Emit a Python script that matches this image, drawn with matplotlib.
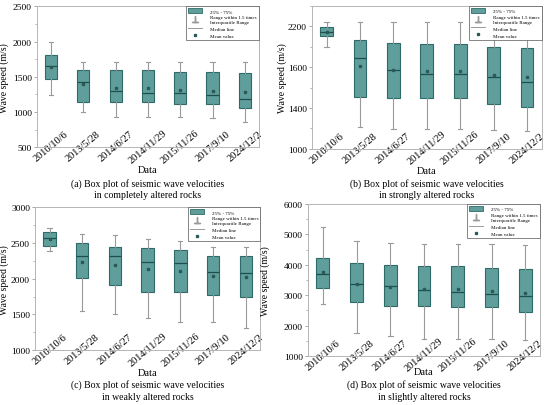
import matplotlib
matplotlib.use("Agg")
import matplotlib.pyplot as plt
import numpy as np
from matplotlib.lines import Line2D
from matplotlib.patches import Patch
from matplotlib.ticker import AutoMinorLocator

plt.rcParams["font.family"] = ["Liberation Serif", "DejaVu Serif"]

DATES = ["2010/10/6", "2013/5/28", "2014/6/27", "2014/11/29",
         "2015/11/26", "2017/9/10", "2024/12/2"]

# per panel: whisker low, q1, median, q3, whisker high, mean
A_LOW = [1247, 997, 926, 926, 926, 911, 855]
A_Q1 = [1469, 1138, 1138, 1138, 1119, 1119, 1063]
A_MED = [1649, 1431, 1294, 1266, 1271, 1247, 1190]
A_Q3 = [1810, 1597, 1592, 1592, 1573, 1573, 1550]
A_HIGH = [1989, 1715, 1706, 1706, 1706, 1706, 1706]
A_MEAN = [1645, 1394, 1342, 1337, 1318, 1304, 1280]

B_LOW = [1994, 1218, 1196, 1196, 1196, 1186, 1173]
B_Q1 = [2102, 1505, 1495, 1495, 1495, 1440, 1414]
B_MED = [2141, 1887, 1773, 1730, 1730, 1701, 1659]
B_Q3 = [2190, 2069, 2040, 2030, 2024, 1994, 1988]
B_HIGH = [2245, 2239, 2239, 2239, 2239, 2239, 2239]
B_MEAN = [2141, 1812, 1776, 1763, 1760, 1724, 1701]

C_LOW = [2384, 1544, 1501, 1453, 1401, 1392, 1306]
C_Q1 = [2465, 2012, 1907, 1821, 1811, 1773, 1749]
C_MED = [2570, 2322, 2322, 2241, 2227, 2093, 2084]
C_Q3 = [2656, 2499, 2451, 2427, 2408, 2322, 2322]
C_HIGH = [2704, 2632, 2618, 2551, 2523, 2451, 2442]
C_MEAN = [2561, 2236, 2189, 2141, 2107, 2045, 2022]

D_LOW = [2708, 1737, 1670, 1558, 1558, 1558, 1536]
D_Q1 = [3232, 2764, 2652, 2630, 2618, 2596, 2451]
D_MED = [3690, 3355, 3299, 3176, 3098, 3031, 2964]
D_Q3 = [4237, 4047, 3991, 3958, 3958, 3880, 3846]
D_HIGH = [5241, 4772, 4705, 4683, 4683, 4683, 4661]
D_MEAN = [3768, 3355, 3266, 3210, 3188, 3121, 3065]

B_TICKS = [1000, 1400, 1800, 2200]
B_TICKLABELS = ["1000", "1400", "1600", "2200"]

FILL = "#5f9e9b"
EDGE = "#2e6b68"
GREY = "#9a9a9a"

PANELS = [
    {"pos": [0.067, 0.635, 0.404, 0.347], "data": (A_LOW, A_Q1, A_MED, A_Q3, A_HIGH, A_MEAN),
     "ylim": (500, 2500), "yticks": [500, 1000, 1500, 2000, 2500], "ylab_x": -0.125, "xlab_y": -0.156,
     "caption": "(a) Box plot of seismic wave velocities\nin completely altered rocks", "cap_y": 0.534},
    {"pos": [0.567, 0.631, 0.418, 0.352], "data": (B_LOW, B_Q1, B_MED, B_Q3, B_HIGH, B_MEAN),
     "ylim": (1000, 2400), "yticks": B_TICKS, "yticklabels": B_TICKLABELS, "ylab_x": -0.108,
     "xlab_y": -0.154,
     "caption": "(b) Box plot of seismic wave velocities\nin strongly altered rocks", "cap_y": 0.534},
    {"pos": [0.064, 0.135, 0.409, 0.352], "data": (C_LOW, C_Q1, C_MED, C_Q3, C_HIGH, C_MEAN),
     "ylim": (1000, 3000), "yticks": [1000, 1500, 2000, 2500, 3000], "ylab_x": -0.118, "xlab_y": -0.154,
     "caption": "(c) Box plot of seismic wave velocities\nin weakly altered rocks", "cap_y": 0.037},
    {"pos": [0.560, 0.121, 0.422, 0.374], "data": (D_LOW, D_Q1, D_MED, D_Q3, D_HIGH, D_MEAN),
     "ylim": (1000, 6000), "yticks": [1000, 2000, 3000, 4000, 5000, 6000], "ylab_x": -0.165,
     "xlab_y": -0.105,
     "caption": "(d) Box plot of seismic wave velocities\nin slightly altered rocks", "cap_y": 0.037},
]


def draw_panel(fig, panel):
    ax = fig.add_axes(panel["pos"])
    low, q1, med, q3, high, mean = panel["data"]
    stats = []
    for i in range(len(DATES)):
        stats.append({"whislo": low[i], "q1": q1[i], "med": med[i], "q3": q3[i],
                      "whishi": high[i], "mean": mean[i], "fliers": []})
    ax.bxp(stats, positions=np.arange(1, len(DATES) + 1), widths=0.38,
           patch_artist=True, showmeans=True, showfliers=False,
           boxprops=dict(facecolor=FILL, edgecolor=EDGE, linewidth=0.8),
           medianprops=dict(color="#1f4f4c", linewidth=0.9),
           whiskerprops=dict(color=GREY, linewidth=0.8),
           capprops=dict(color=GREY, linewidth=0.8),
           capwidths=0.13,
           meanprops=dict(marker="s", markersize=1.5, markerfacecolor="#2a5a57",
                          markeredgecolor="#2a5a57"))

    ax.set_xlim(0.56, len(DATES) + 0.44)
    ax.set_ylim(*panel["ylim"])
    ax.set_yticks(panel["yticks"])
    if "yticklabels" in panel:
        ax.set_yticklabels(panel["yticklabels"])
    ax.yaxis.set_minor_locator(AutoMinorLocator(2))
    ax.set_xticks(np.arange(1, len(DATES) + 1))
    ax.set_xticklabels(DATES, rotation=40, ha="center", va="center", fontsize=7.5)
    ax.tick_params(axis="y", labelsize=6.8, color=GREY, length=2.5, width=0.6, pad=1.2)
    ax.tick_params(axis="y", which="minor", color=GREY, length=1.5, width=0.5)
    ax.tick_params(axis="x", length=0, pad=-1)
    for spine in ax.spines.values():
        spine.set_color("#b5b5b5")
        spine.set_linewidth(0.7)

    ax.set_ylabel("Wave speed (m/s)", fontsize=7)
    ax.yaxis.set_label_coords(panel["ylab_x"], 0.5)
    ax.set_xlabel("Data", fontsize=7.5, va="center")
    ax.xaxis.set_label_coords(0.5, panel["xlab_y"])

    handles = [
        Patch(facecolor=FILL, edgecolor=EDGE, linewidth=0.6),
        Line2D([], [], color=GREY, marker="$\\perp$", linestyle="none", markersize=5),
        Line2D([], [], color=GREY, linewidth=0.7),
        Line2D([], [], color="#2a5a57", marker="s", markersize=1.4, linestyle="none"),
    ]
    labels = ["25% - 75%", "Range within 1.5 times\nInterquartile Range", "Median line", "Mean value"]
    leg = ax.legend(handles, labels, loc="upper right", fontsize=3.6, frameon=True,
                    fancybox=False, borderaxespad=0.0, handlelength=2.8,
                    handleheight=1.2, labelspacing=0.35, borderpad=0.4,
                    handletextpad=1.6)
    leg.get_frame().set_edgecolor("#555555")
    leg.get_frame().set_linewidth(0.5)
    leg.get_frame().set_alpha(1.0)
    leg.set_zorder(5)

    left, bottom, width, height = panel["pos"]
    fig.text(left + width / 2, panel["cap_y"], panel["caption"], ha="center", va="center",
             fontsize=7, linespacing=1.3)
    return ax


def main():
    fig = plt.figure(figsize=(5.5, 4.06), dpi=100)
    for panel in PANELS:
        draw_panel(fig, panel)
    fig.savefig("out.png", dpi=100)
    plt.close(fig)


if __name__ == "__main__":
    main()
